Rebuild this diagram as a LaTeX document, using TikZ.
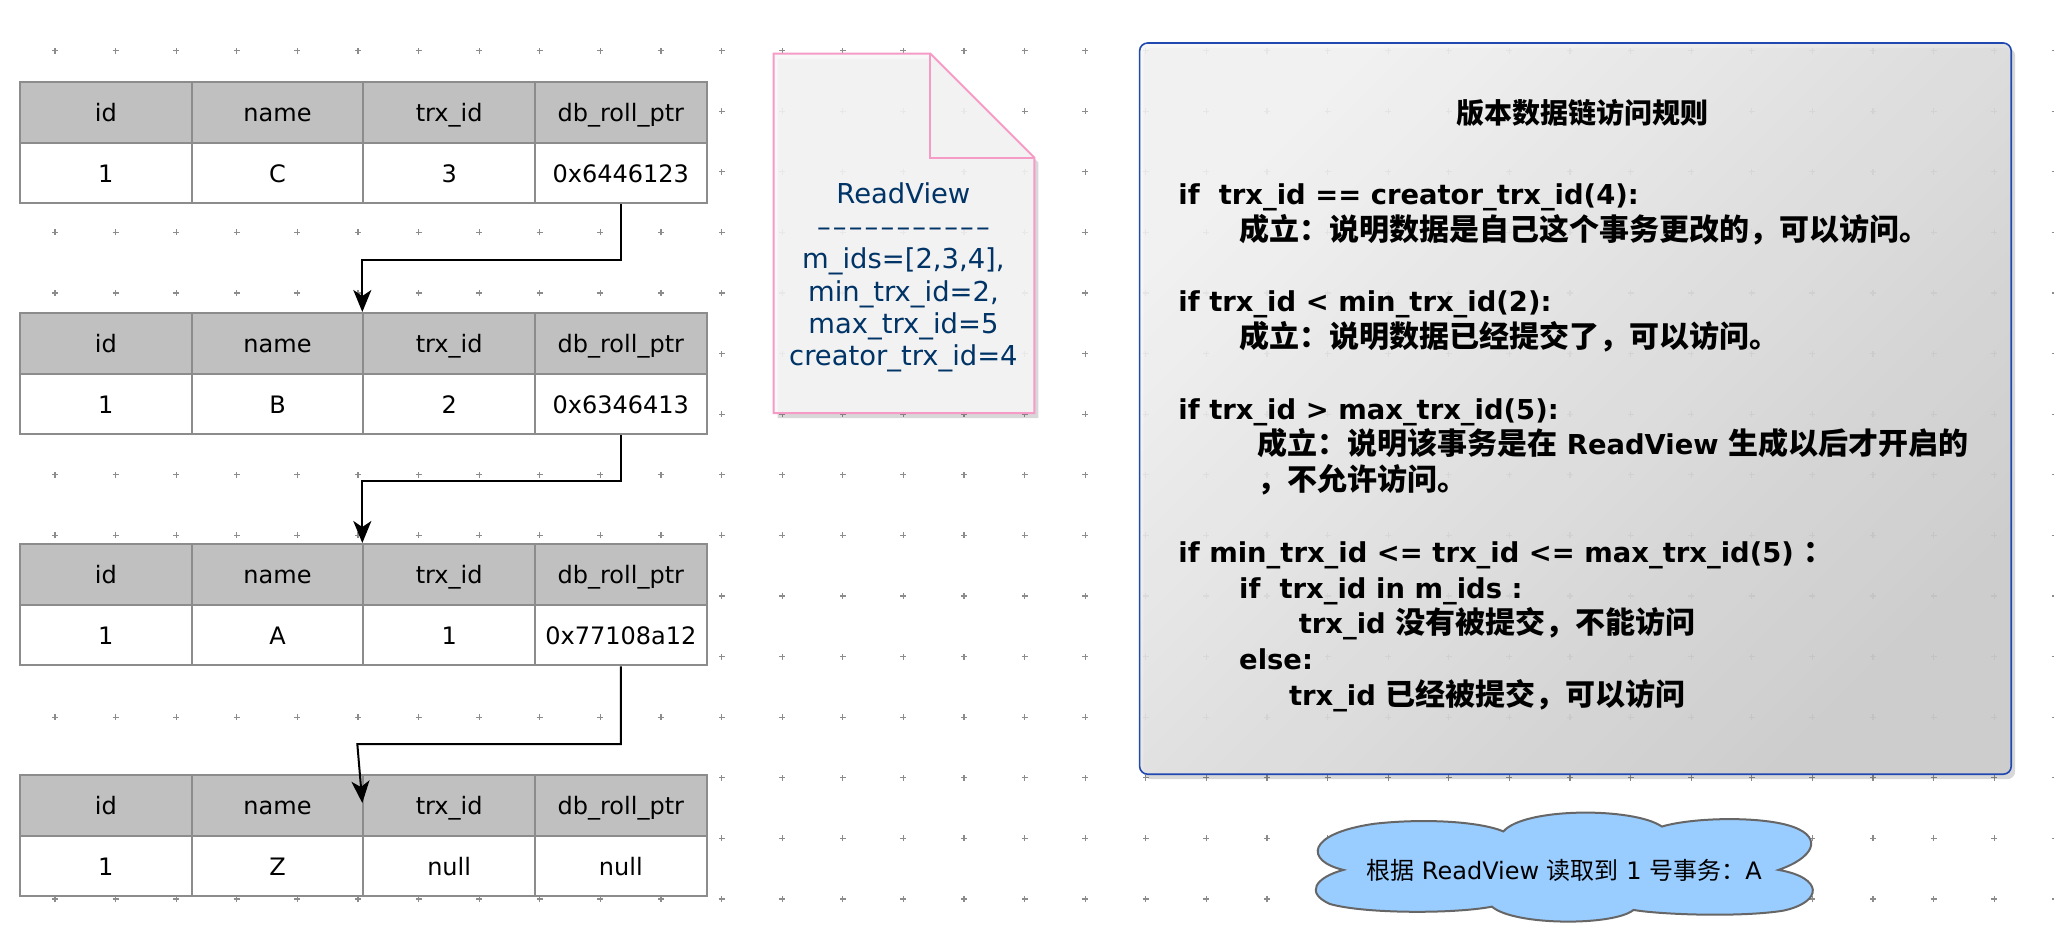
\documentclass[tikz,border=0pt]{standalone}
\usepackage{fontspec}
\setmainfont{DejaVu Sans}
\newfontfamily\cjk{Noto Sans CJK SC}
\usetikzlibrary{arrows.meta,shadows,calc}

\definecolor{headgray}{HTML}{C0C0C0}
\definecolor{linegray}{HTML}{8C8C8C}
\definecolor{notepink}{HTML}{F59BC6}
\definecolor{notefill}{HTML}{F7F7F7}
\definecolor{notetext}{HTML}{003366}
\definecolor{rulesblue}{HTML}{2148B0}
\definecolor{cloudblue}{HTML}{99CCFF}

\newcommand{\zh}[1]{{\cjk #1}}
\newcommand{\zhb}[1]{{\cjk\fontsize{15}{17.9}\selectfont #1}}
\newcommand{\dashline}{\foreach \k in {1,...,11}{\makebox[7.95pt]{\textendash}}}

\begin{document}
\begin{tikzpicture}[x=1pt, y=1pt,
	dot/.style={draw=gray!90, line width=0.55pt},
	cell/.style={draw=linegray, line width=1pt, minimum width=85.83pt, minimum height=30.35pt, inner sep=0pt,
		text height=11pt, text depth=2pt, font=\fontsize{12}{14}\selectfont},
	head/.style={cell, fill=headgray},
	row/.style={cell, fill=white},
	link/.style={-{Stealth[length=11pt,width=9pt,inset=3pt]}, line width=1pt},
	shade/.style={drop shadow={shadow xshift=2pt, shadow yshift=-2.5pt, opacity=0.22, fill=black!70}}]
	\useasboundingbox (0,0) rectangle (1027,-476);

	% background grid
	\foreach \i in {0,...,33}
		\foreach \j in {0,...,14}
			\draw[dot] ({27.5+30.3*\i},{-25.3-30.3*\j}) +(-1.5,0) -- +(1.5,0) +(0,-1.5) -- +(0,1.5);

	% version chain
	\foreach \tb/\ty/\nm/\trx/\ptr in {1/41/C/3/0x6446123, 2/156.5/B/2/0x6346413, 3/272/A/1/0x77108a12, 4/387.5/Z/null/null}{
		\foreach \lab [count=\i] in {id,name,trx\_id,db\_roll\_ptr}
			\node[head] (h\tb-\i) at ({10+85.83*(\i-0.5)},{-\ty-15.18}) {\lab};
		\foreach \val [count=\i] in {1,\nm,\trx,\ptr}
			\node[row] (d\tb-\i) at ({10+85.83*(\i-0.5)},{-\ty-45.53}) {\val};
	}
	\coordinate (t4in) at ($(h4-3.north west)+(0,-14.5)$);
	\draw[link] (d1-4.south) -- ++(0,-28) -| (h2-3.north west);
	\draw[link] (d2-4.south) -- ++(0,-23) -| (h3-3.north west);
	\draw[link] (d3-4.south) |- ($(t4in)+(-2.5,29.5)$) -- (t4in);

	% readview note
	\node[minimum width=130pt, minimum height=179.3pt, inner sep=0pt] (note) at (452,-116.65) {};
	\filldraw[draw=notepink, fill=notefill, line width=1pt, fill opacity=0.88, shade]
		(note.north west) -- ([xshift=-52pt]note.north east) -- ([yshift=-52pt]note.north east)
		-- (note.south east) -- (note.south west) -- cycle;
	\draw[notepink, line width=1pt] ([xshift=-52pt]note.north east) |- ([yshift=-52pt]note.north east);
	\node[text=notetext, align=center, font=\fontsize{13.7}{16.2}\selectfont] (rv) at (451.7,-138.9)
		{ReadView\\\dashline\\m\_ids=[2,3,4],\\min\_trx\_id=2,\\max\_trx\_id=5\\creator\_trx\_id=4};

	% access rules
	\node[draw=rulesblue, line width=0.8pt, rounded corners=4pt, top color=black!4, bottom color=black!20,
		shading angle=45, fill opacity=0.88, shade, minimum width=435.8pt, minimum height=365.6pt] (rules) at (787.7,-204.3) {};
	\node[font=\fontsize{14}{16}\selectfont\bfseries] (title) at (791,-56.3) {\zh{版本数据链访问规则}};
	\node[anchor=north west, align=left, inner sep=0pt, font=\fontsize{13.7}{17.9}\selectfont\bfseries] (cond) at (589,-91.5)
		{if\ \ trx\_id == creator\_trx\_id(4):\\
		\hspace*{30.4pt}\zhb{成立：说明数据是自己这个事务更改的，可以访问。}\\[17.9pt]
		if trx\_id < min\_trx\_id(2):\\
		\hspace*{30.4pt}\zhb{成立：说明数据已经提交了，可以访问。}\\[17.9pt]
		if trx\_id > max\_trx\_id(5):\\
		\hspace*{39.5pt}\zhb{成立：说明该事务是在} ReadView \zhb{生成以后才开启的}\\
		\hspace*{39.5pt}\zhb{，不允许访问。}\\[17.9pt]
		if min\_trx\_id <= trx\_id <= max\_trx\_id(5) \zhb{：}\\
		\hspace*{30.4pt}if\ \ trx\_id in m\_ids :\\
		\hspace*{60.2pt}trx\_id \zhb{没有被提交，不能访问}\\
		\hspace*{30.4pt}else:\\
		\hspace*{55.3pt}trx\_id \zhb{已经被提交，可以访问}};

	% result cloud
	\begin{scope}[shift={(657.5,-405.8)}, x=249.2pt, y=-55pt]
		\filldraw[fill=cloudblue, draw=gray!80!black, line width=1pt]
			(0.057,0.53) .. controls (-0.02,0.45) and (-0.02,0.2) .. (0.12,0.11)
			.. controls (0.22,0.06) and (0.33,0.09) .. (0.378,0.18)
			.. controls (0.42,-0.04) and (0.64,-0.04) .. (0.696,0.136)
			.. controls (0.76,0.05) and (0.9,0.04) .. (0.96,0.14)
			.. controls (1.02,0.24) and (1.0,0.42) .. (0.93,0.53)
			.. controls (1.02,0.6) and (1.02,0.82) .. (0.94,0.9)
			.. controls (0.86,0.96) and (0.7,0.94) .. (0.639,0.894)
			.. controls (0.6,1.04) and (0.4,1.04) .. (0.355,0.864)
			.. controls (0.28,0.93) and (0.1,0.93) .. (0.03,0.84)
			.. controls (-0.02,0.74) and (0.0,0.6) .. (0.057,0.53) -- cycle;
	\end{scope}
	\node[font=\fontsize{12}{14}\selectfont] (verdict) at (782,-435) {\zh{根据} ReadView \zh{读取到} 1 \zh{号事务：}A};
\end{tikzpicture}
\end{document}
